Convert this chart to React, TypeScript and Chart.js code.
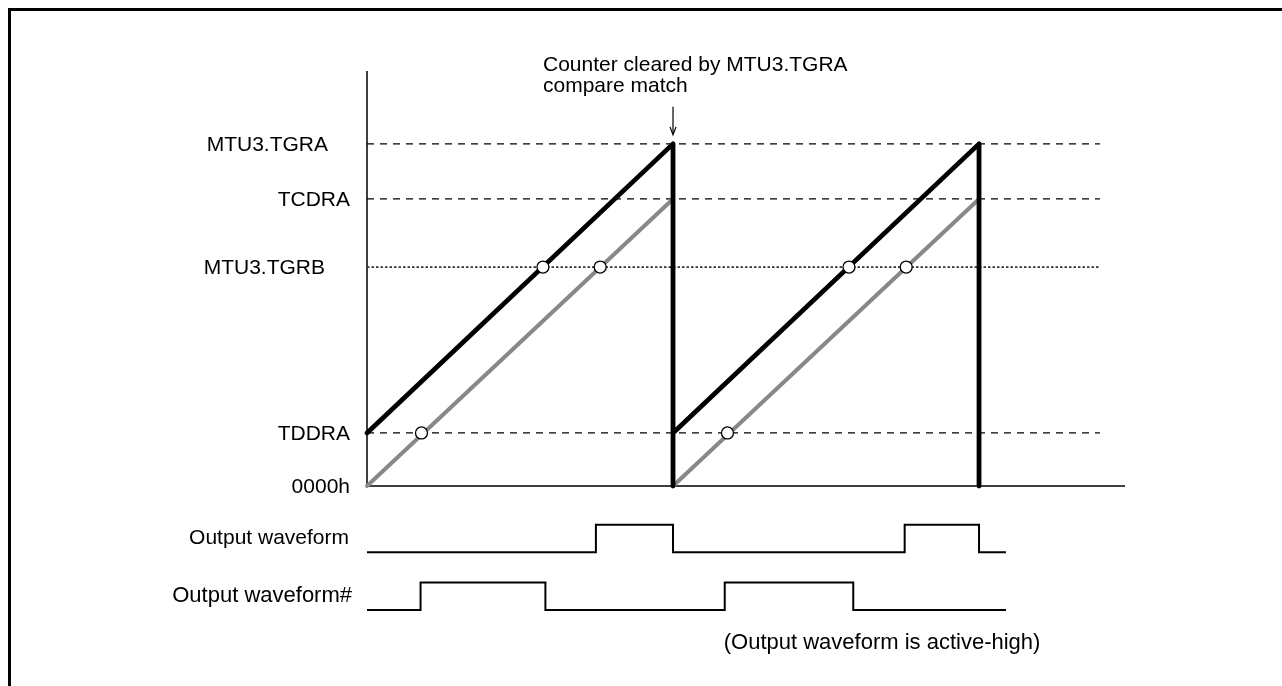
import React, { useEffect, useRef } from "react";
import { Chart, registerables } from "chart.js";

Chart.register(...registerables);

// ---- Data ----
// Counter compare levels (counter units, 0000h = 0, MTU3.TGRA = 100)
const levelNames = ["MTU3.TGRA", "TCDRA", "MTU3.TGRB", "TDDRA", "0000h"];
const levelValues = [100, 83.9, 64, 15.5, 0];
const levelDashed = [true, true, false, true, false];
const refLineEnd = 239.5; // time where reference lines stop

// Counter (black) : starts at TDDRA, cleared by TGRA compare match
const counterTimes = [0, 100, 100, 100, 200, 200];
const counterValues = [15.5, 100, 0, 15.5, 100, 0];

// Counter offset by TDDRA (gray)
const subCounterTimes = [0, 100, 100, 100, 200];
const subCounterValues: (number | null)[] = [0, 83.9, null, 0, 83.9];

// Compare match points (open circles)
const matchTimes = [17.8, 57.5, 76.2, 117.8, 157.5, 176.2];
const matchValues = [15.5, 64, 64, 15.5, 64, 64];

// Output waveforms (transition times, logic level after transition)
const waveNames = ["Output waveform", "Output waveform#"];
const outTimes = [0, 74.8, 100, 175.7, 200, 208.8];
const outLevels = [0, 1, 0, 1, 0, 0];
const outNTimes = [0, 17.5, 58.3, 116.9, 158.9, 208.8];
const outNLevels = [0, 1, 0, 1, 0, 0];
const laneBase = [2.1, 0];

const annotationLines = ["Counter cleared by MTU3.TGRA", "compare match"];
const noteText = "(Output waveform is active-high)";

const FAMILY = "'Liberation Sans', Arial, sans-serif";

const toPts = (xs: number[], ys: (number | null)[]) =>
  xs.map((x, i) => ({ x, y: ys[i] }));

export default function App() {
  const ref = useRef<HTMLCanvasElement | null>(null);

  useEffect(() => {
    if (!ref.current) return;

    const decor = {
      id: "decor",
      beforeDraw(chart: any) {
        const ctx = chart.ctx;
        ctx.save();
        ctx.fillStyle = "#ffffff";
        ctx.fillRect(0, 0, chart.width, chart.height);
        ctx.restore();
      },
      beforeDatasetsDraw(chart: any) {
        const ctx = chart.ctx;
        const { left, bottom, top, right } = chart.chartArea;
        ctx.save();
        // frame
        ctx.strokeStyle = "#000";
        ctx.lineWidth = 3;
        ctx.beginPath();
        ctx.moveTo(9.5, chart.height);
        ctx.lineTo(9.5, 9.5);
        ctx.lineTo(chart.width, 9.5);
        ctx.stroke();
        // axes
        ctx.lineWidth = 1.5;
        ctx.beginPath();
        ctx.moveTo(left, top);
        ctx.lineTo(left, bottom);
        ctx.lineTo(right, bottom);
        ctx.stroke();
        ctx.restore();
      },
      afterDatasetsDraw(chart: any) {
        const ctx = chart.ctx;
        const xs = chart.scales.x;
        const ys = chart.scales.y;
        const yw = chart.scales.yw;
        const { left } = chart.chartArea;
        ctx.save();
        ctx.fillStyle = "#000";
        ctx.font = "21px " + FAMILY;
        ctx.textBaseline = "alphabetic";
        // level labels
        const gaps = [39, 17, 42, 17, 17];
        levelNames.forEach((n, i) => {
          ctx.textAlign = "right";
          ctx.fillText(n, left - gaps[i], ys.getPixelForValue(levelValues[i]) + 7);
        });
        // waveform labels
        const wGaps = [18, 15];
        const wSizes = [21, 22];
        waveNames.forEach((n, i) => {
          ctx.font = wSizes[i] + "px " + FAMILY;
          ctx.textAlign = "right";
          ctx.fillText(n, left - wGaps[i], yw.getPixelForValue(laneBase[i] + 0.5) + 6);
        });
        // note
        ctx.font = "22px " + FAMILY;
        ctx.textAlign = "left";
        ctx.fillText(noteText, xs.getPixelForValue(116.9) - 1, yw.getPixelForValue(laneBase[1]) + 39);
        // annotation
        ctx.font = "21px " + FAMILY;
        const ax = xs.getPixelForValue(counterTimes[1]);
        const ay = ys.getPixelForValue(levelValues[0]);
        ctx.fillText(annotationLines[0], ax - 130, ay - 73);
        ctx.fillText(annotationLines[1], ax - 130, ay - 52);
        // arrow
        ctx.strokeStyle = "#000";
        ctx.lineWidth = 1.2;
        ctx.beginPath();
        ctx.moveTo(ax, ay - 37);
        ctx.lineTo(ax, ay - 10);
        ctx.stroke();
        ctx.beginPath();
        ctx.moveTo(ax - 3, ay - 17);
        ctx.lineTo(ax, ay - 9);
        ctx.lineTo(ax + 3, ay - 17);
        ctx.stroke();
        ctx.restore();
      },
    };

    const refSets = levelValues
      .map((v, i) => ({ v, i }))
      .filter(({ i }) => levelNames[i] !== "0000h")
      .map(({ v, i }) => ({
        label: levelNames[i],
        data: toPts([0, refLineEnd], [v, v]),
        borderColor: levelDashed[i] ? "#000" : "#333",
        borderWidth: levelDashed[i] ? 1.3 : 1.8,
        borderDash: levelDashed[i] ? [7, 6] : [2.5, 2],
        pointRadius: 0,
        order: 5,
        clip: false as any,
      }));

    const chart = new Chart(ref.current, {
      type: "line",
      data: {
        datasets: [
          {
            label: "match",
            data: toPts(matchTimes, matchValues),
            showLine: false,
            pointRadius: 6,
            pointBackgroundColor: "#fff",
            pointBorderColor: "#000",
            pointBorderWidth: 1.3,
            order: 0,
            clip: false as any,
          },
          {
            label: "counter",
            data: toPts(counterTimes, counterValues),
            borderColor: "#000",
            borderWidth: 4.8,
            borderCapStyle: "round",
            borderJoinStyle: "round",
            pointRadius: 0,
            order: 1,
            clip: false as any,
          },
          {
            label: "sub",
            data: toPts(subCounterTimes, subCounterValues),
            borderColor: "#888888",
            borderWidth: 4,
            borderCapStyle: "round",
            pointRadius: 0,
            spanGaps: false,
            order: 2,
            clip: false as any,
          },
          ...refSets,
          {
            label: waveNames[0],
            data: toPts(outTimes, outLevels.map((l) => laneBase[0] + l)),
            yAxisID: "yw",
            stepped: "before",
            borderColor: "#000",
            borderWidth: 2,
            pointRadius: 0,
            order: 3,
            clip: false as any,
          },
          {
            label: waveNames[1],
            data: toPts(outNTimes, outNLevels.map((l) => laneBase[1] + l)),
            yAxisID: "yw",
            stepped: "before",
            borderColor: "#000",
            borderWidth: 2,
            pointRadius: 0,
            order: 3,
            clip: false as any,
          },
        ] as any,
      },
      options: {
        animation: false,
        responsive: false,
        events: [],
        layout: { padding: { left: 367, right: 157, top: 71, bottom: 200 } },
        plugins: { legend: { display: false }, tooltip: { enabled: false } },
        scales: {
          x: { type: "linear", min: 0, max: 247.7, display: false },
          y: { type: "linear", min: 0, max: 121.3, display: false },
          yw: { type: "linear", min: 4.509, max: 19.6, display: false },
        },
      },
      plugins: [decor],
    });
    return () => chart.destroy();
  }, []);

  return (
    <canvas
      ref={ref}
      width={1282}
      height={686}
      style={{ position: "fixed", left: 0, top: 0, display: "block", width: 1282, height: 686 }}
    />
  );
}
